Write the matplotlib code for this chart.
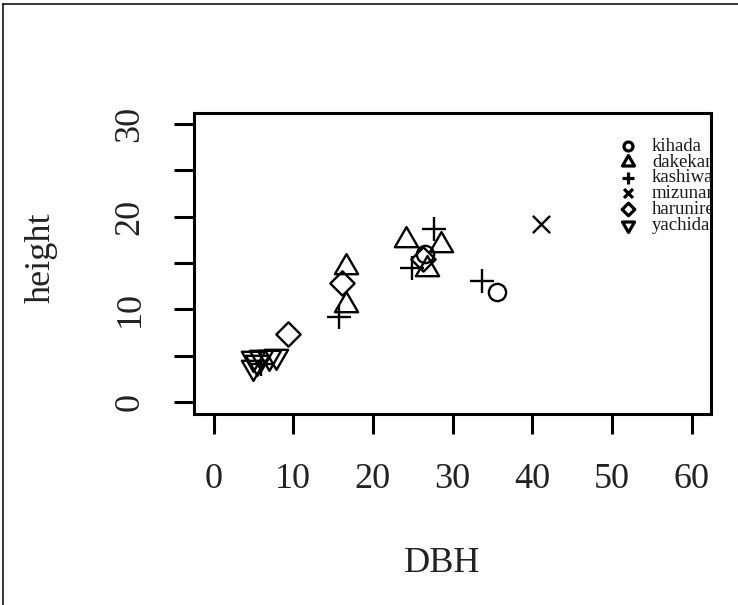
import matplotlib
matplotlib.use("Agg")
import matplotlib.pyplot as plt
from matplotlib.path import Path
from matplotlib.lines import Line2D

# ---------------- data ----------------
species = ["kihada", "dakekanba", "kashiwa", "mizunara", "harunire", "yachidamo"]

kihada_dbh = [26.6, 35.6]
kihada_h = [16.0, 11.9]

dakekanba_dbh = [16.6, 16.6, 24.1, 28.5, 26.8]
dakekanba_h = [14.6, 10.5, 17.5, 16.9, 14.4]

kashiwa_dbh = [15.7, 24.9, 27.7, 33.7, 6.0]
kashiwa_h = [9.2, 14.5, 18.7, 13.1, 4.1]

mizunara_dbh = [41.1]
mizunara_h = [19.2]

harunire_dbh = [16.1, 9.4, 26.3]
harunire_h = [12.8, 7.4, 15.4]

yachidamo_dbh = [5.0, 6.0, 7.0, 7.9, 4.9, 5.4]
yachidamo_h = [4.8, 4.9, 4.9, 5.0, 3.8, 4.3]

x_ticks = [0, 10, 20, 30, 40, 50, 60]
x_ticklabels = ["0", "10", "20", "30", "40", "50", "60"]
y_ticks = [0, 5, 10, 15, 20, 25, 30]
y_ticklabels = ["0", "", "10", "", "20", "", "30"]

# ---------------- marker shapes (R pch 1..6) ----------------
M, L = Path.MOVETO, Path.LINETO
circle = Path.unit_circle()
tri_up = Path([(0, 1), (-0.866, -0.5), (0.866, -0.5), (0, 1)], closed=True)
plus = Path([(-1, 0), (1, 0), (0, -1), (0, 1)], [M, L, M, L])
cross = Path([(-1, -1), (1, 1), (-1, 1), (1, -1)], [M, L, M, L])
diamond = Path([(0, 1), (1, 0), (0, -1), (-1, 0), (0, 1)], closed=True)
tri_down = Path([(0, -1), (-0.866, 0.5), (0.866, 0.5), (0, -1)], closed=True)

markers = [circle, tri_up, plus, cross, diamond, tri_down]
msizes = [12.4, 19.3, 17.5, 12.4, 17.5, 19.3]
series = [
    (kihada_dbh, kihada_h),
    (dakekanba_dbh, dakekanba_h),
    (kashiwa_dbh, kashiwa_h),
    (mizunara_dbh, mizunara_h),
    (harunire_dbh, harunire_h),
    (yachidamo_dbh, yachidamo_h),
]

FONT = "Liberation Serif"
plt.rcParams["font.family"] = [FONT, "DejaVu Serif"]

fig = plt.figure(figsize=(7.38, 6.05), dpi=100)
fig.patch.set_facecolor("white")
ax = fig.add_axes([0.2634, 0.3165, 0.6997, 0.4975])

for (xs, ys), mk, ms in zip(series, markers, msizes):
    ax.plot(xs, ys, linestyle="none", marker=mk, markersize=ms,
            markerfacecolor="none", markeredgecolor="black",
            markeredgewidth=1.7, clip_on=False)

ax.set_xlim(-2.4, 62.4)
ax.set_ylim(-1.2, 31.2)

for sp in ax.spines.values():
    sp.set_linewidth(2.2)
    sp.set_color("black")

ax.set_xticks(x_ticks)
ax.set_xticklabels(x_ticklabels)
ax.set_yticks(y_ticks)
ax.set_yticklabels(y_ticklabels, rotation=90, va="center")
ax.tick_params(axis="both", direction="out", length=14.5, width=2.2,
               labelsize=26, color="black", labelcolor="#222222")
ax.tick_params(axis="x", pad=21)
ax.tick_params(axis="y", pad=20)
for t in ax.get_yticklabels():
    t.set_verticalalignment("center")

# axis titles
fig.text(442 / 738, 1 - 564 / 605, "DBH", ha="center", va="center",
         fontsize=26, family=FONT, color="#222222")
fig.text(40.8 / 738, 1 - 258 / 605, "height", ha="center", va="center",
         rotation=90, fontsize=26, family=FONT, color="#222222")

# legend (R style, no box, text clipped by the plot region)
leg_x_marker = 0.8397
leg_x_text = 0.886
leg_top = 0.8887
leg_step = 0.0524
leg_base_off = 0.0158
for i, (name, mk, ms) in enumerate(zip(species, markers, msizes)):
    yy = leg_top - i * leg_step
    ax.plot([leg_x_marker], [yy], transform=ax.transAxes, linestyle="none",
            marker=mk, markersize=ms * 0.52, markerfacecolor="none",
            markeredgecolor="black", markeredgewidth=2.3, clip_on=False)
    ax.text(leg_x_text, yy - leg_base_off, name, transform=ax.transAxes,
            ha="left", va="baseline", fontsize=13.5, family=FONT,
            color="#1a1a1a", clip_on=True)

# outer frame lines (top and left)
fig.add_artist(Line2D([0.0045, 0.0045], [0, 0.9926], transform=fig.transFigure,
                      color="black", linewidth=1.1))
fig.add_artist(Line2D([0.0045, 1.0], [0.9926, 0.9926], transform=fig.transFigure,
                      color="black", linewidth=1.1))

fig.savefig("out.png", dpi=100, facecolor="white")
